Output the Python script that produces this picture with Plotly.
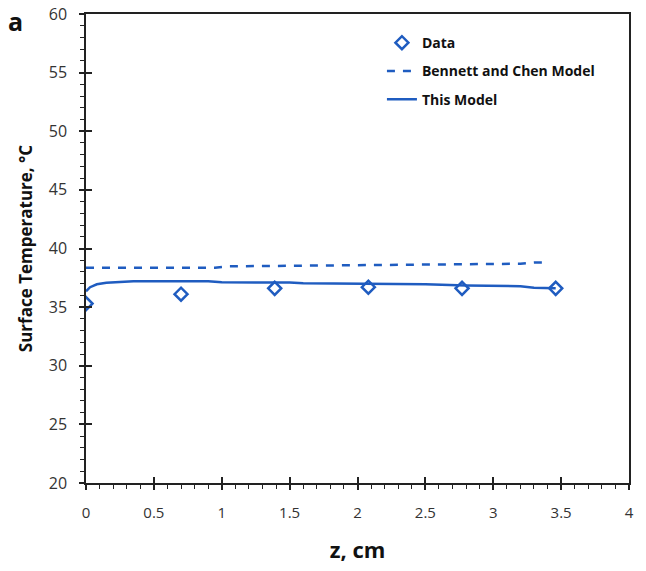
import plotly.graph_objects as go

data_z = [0.0, 0.70, 1.39, 2.08, 2.77, 3.46]
data_t = [35.3, 36.1, 36.6, 36.7, 36.6, 36.6]

bc_z = [0.0, 0.5, 0.95, 1.05, 1.5, 2.0, 2.5, 3.0, 3.2, 3.3, 3.37]
bc_t = [38.35, 38.35, 38.35, 38.48, 38.52, 38.56, 38.6, 38.66, 38.7, 38.8, 38.8]

tm_z = [0.0, 0.03, 0.08, 0.15, 0.25, 0.35, 0.6, 0.9, 1.0, 1.5, 1.6, 2.0, 2.5, 2.8, 3.2, 3.3, 3.46]
tm_t = [36.35, 36.7, 36.95, 37.08, 37.15, 37.2, 37.2, 37.2, 37.12, 37.1, 37.03, 37.0, 36.95, 36.85, 36.78, 36.65, 36.62]

blue = "#1F5CC0"
font = "Open Sans"

fig = go.Figure()
fig.add_trace(go.Scatter(x=data_z, y=data_t, mode="markers", name="<b>Data</b>", legendgroup="a",
                         marker=dict(symbol="diamond-open", size=10, color=blue, line=dict(width=2.5, color=blue))))
fig.add_trace(go.Scatter(x=bc_z, y=bc_t, mode="lines", name="<b>Bennett and Chen Model</b>", legendgroup="b",
                         line=dict(color=blue, width=2.5, dash="8px,8px")))
fig.add_trace(go.Scatter(x=tm_z, y=tm_t, mode="lines", name="<b>This Model</b>", legendgroup="c",
                         line=dict(color=blue, width=2.5)))
# invisible trace on overlay axes so they render
fig.add_trace(go.Scatter(x=[0], y=[20], xaxis="x2", yaxis="y2", mode="markers",
                         marker=dict(opacity=0), showlegend=False, hoverinfo="skip"))

tickfont = dict(family=font, size=16, color="#333333")
fig.update_layout(
    width=646, height=571,
    margin=dict(l=86, r=17, t=14, b=88),
    plot_bgcolor="white", paper_bgcolor="white",
    showlegend=True,
    legend=dict(x=0.545, y=0.972, xanchor="left", yanchor="top",
                font=dict(family=font, size=14, color="#111111"),
                bgcolor="rgba(0,0,0,0)", tracegroupgap=7, itemwidth=30),
    xaxis=dict(range=[0, 4], tickvals=[0, 0.5, 1, 1.5, 2, 2.5, 3, 3.5, 4],
               ticktext=["0", "0.5", "1", "1.5", "2", "2.5", "3", "3.5", "4"],
               showgrid=False, zeroline=False, showline=True, linecolor="#222", linewidth=1.5,
               mirror=True, ticks="outside", ticklen=5, tickwidth=1.5, tickcolor="#222",
               minor=dict(dtick=0.1, ticks="outside", ticklen=4, tickwidth=1, tickcolor="#222"),
               tickfont=dict(family=font, size=15, color="#333333"), ticklabelstandoff=10, automargin=False,
               title=dict(text="<b>z, cm</b>", font=dict(family=font, size=22, color="#111"), standoff=22)),
    yaxis=dict(range=[20, 60], dtick=5,
               showgrid=False, zeroline=False, showline=True, linecolor="#222", linewidth=1.5,
               mirror=True, ticks="outside", ticklen=5, tickwidth=1.5, tickcolor="#222",
               minor=dict(dtick=1, ticks="outside", ticklen=4, tickwidth=1, tickcolor="#222"),
               tickfont=tickfont, ticklabelstandoff=9, automargin=False,
               title=dict(text="<b>Surface Temperature, °C</b>", font=dict(family=font, size=17, color="#111"), standoff=12)),
    xaxis2=dict(range=[0, 4], overlaying="x", anchor="y2", dtick=0.5, showgrid=False, zeroline=False,
                showline=False, showticklabels=False, ticks="inside", ticklen=6, tickwidth=1.5, tickcolor="#222"),
    yaxis2=dict(range=[20, 60], overlaying="y", anchor="x2", dtick=5, showgrid=False, zeroline=False,
                showline=False, showticklabels=False, ticks="inside", ticklen=6, tickwidth=1.5, tickcolor="#222"),
)
fig.add_annotation(text="<b>a</b>", xref="paper", yref="paper", x=-0.148, y=1.026,
                   xanchor="left", yanchor="top", showarrow=False,
                   font=dict(family=font, size=25, color="#111"))
fig.write_html("out.html")
